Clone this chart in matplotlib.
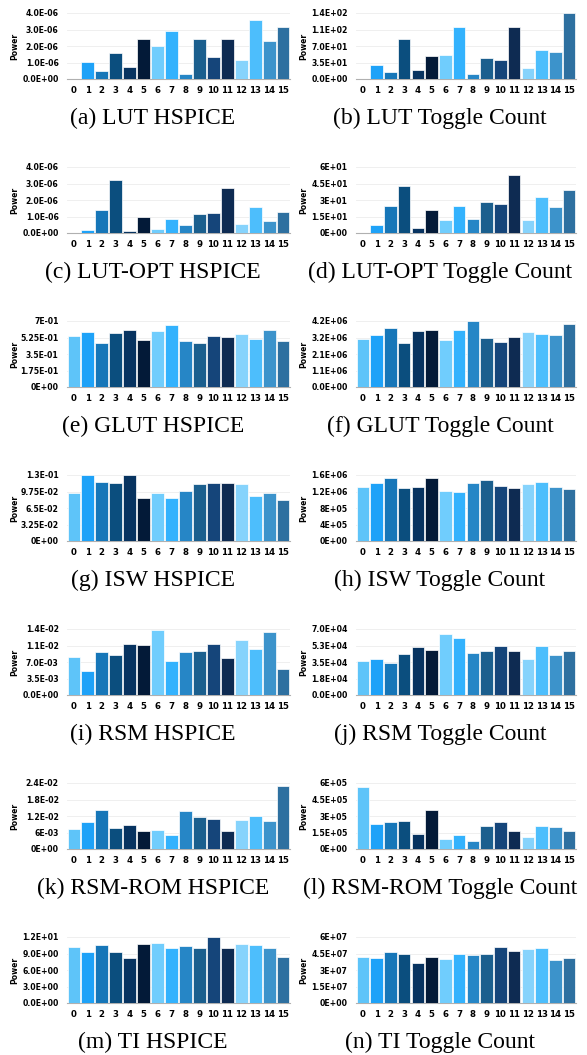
import matplotlib
matplotlib.use("Agg")
import matplotlib.pyplot as plt
import numpy as np

# Apple Numbers style blue palette, one colour per input value
colors = ['#5EC4F9', '#1EA2F8', '#1676B8', '#0B4E7E', '#073360', '#031A38',
          '#70CDFD', '#33B2FD', '#2686C6', '#1B5F8E', '#15457A', '#0E2B52',
          '#86D3FC', '#4DBEFC', '#3C93CB', '#2E70A0']
inputs = list(range(16))

# data
lut_hspice = [0, 1.04e-6, 0.5e-6, 1.56e-6, 0.75e-6, 2.4e-6, 1.98e-6, 2.9e-6,
              0.32e-6, 2.42e-6, 1.33e-6, 2.44e-6, 1.16e-6, 3.6e-6, 2.3e-6, 3.16e-6]
lut_toggle = [0, 30, 15, 84, 19, 49, 51, 111, 11, 44, 40, 111, 24, 61, 57, 139]
lutopt_hspice = [0, 0.16e-6, 1.37e-6, 3.2e-6, 0.1e-6, 0.98e-6, 0.26e-6, 0.86e-6,
                 0.48e-6, 1.13e-6, 1.19e-6, 2.73e-6, 0.56e-6, 1.55e-6, 0.7e-6, 1.29e-6]
lutopt_toggle = [0, 7, 25, 43, 5, 21, 12, 25, 13, 28, 26, 53, 12, 33, 24, 39]
glut_hspice = [0.544, 0.584, 0.463, 0.577, 0.605, 0.498, 0.594, 0.655,
               0.491, 0.47, 0.537, 0.527, 0.562, 0.512, 0.605, 0.484]
glut_toggle = [3.06e6, 3.29e6, 3.76e6, 2.83e6, 3.59e6, 3.61e6, 2.97e6, 3.61e6,
               4.18e6, 3.12e6, 2.89e6, 3.21e6, 3.48e6, 3.40e6, 3.31e6, 3.99e6]
isw_hspice = [0.095, 0.13, 0.117, 0.1145, 0.1306, 0.0848, 0.0936, 0.0842,
              0.0976, 0.113, 0.1145, 0.115, 0.113, 0.0896, 0.0936, 0.0808]
isw_toggle = [1.31e6, 1.41e6, 1.52e6, 1.28e6, 1.31e6, 1.53e6, 1.22e6, 1.20e6,
              1.40e6, 1.48e6, 1.34e6, 1.28e6, 1.37e6, 1.43e6, 1.30e6, 1.26e6]
rsm_hspice = [8.0e-3, 5.07e-3, 9.15e-3, 8.44e-3, 10.9e-3, 10.7e-3, 13.8e-3, 7.18e-3,
              9.08e-3, 9.36e-3, 10.84e-3, 7.81e-3, 11.6e-3, 9.71e-3, 13.37e-3, 5.56e-3]
rsm_toggle = [36.4e3, 38.2e3, 34.3e3, 43.4e3, 50.8e3, 47.6e3, 64.8e3, 60.9e3,
              44.1e3, 46.9e3, 52.2e3, 46.6e3, 38.5e3, 51.5e3, 42.4e3, 46.6e3]
rsmrom_hspice = [7.1e-3, 10.0e-3, 14.35e-3, 7.5e-3, 8.8e-3, 6.5e-3, 6.75e-3, 5.07e-3,
                 13.9e-3, 11.5e-3, 11.0e-3, 6.4e-3, 10.5e-3, 11.9e-3, 10.25e-3, 23.0e-3]
rsmrom_toggle = [5.6e5, 2.25e5, 2.44e5, 2.56e5, 1.34e5, 3.59e5, 0.91e5, 1.25e5,
                 0.73e5, 2.1e5, 2.47e5, 1.61e5, 1.13e5, 2.13e5, 2.01e5, 1.64e5]
ti_hspice = [10.2, 9.3, 10.5, 9.3, 8.1, 10.8, 11.0, 10.0,
             10.4, 10.0, 12.0, 10.0, 10.8, 10.6, 10.0, 8.4]
ti_toggle = [42e6, 41e6, 46e6, 45e6, 36e6, 42e6, 40e6, 45e6,
             44e6, 45e6, 51e6, 47e6, 49e6, 50e6, 39e6, 41e6]

# (values, y max, tick labels, caption)
panels = [
    (lut_hspice, 4e-6, ['0.0E+00', '1.0E-06', '2.0E-06', '3.0E-06', '4.0E-06'], '(a) LUT HSPICE'),
    (lut_toggle, 140, ['0.0E+00', '3.5E+01', '7.0E+01', '1.1E+02', '1.4E+02'], '(b) LUT Toggle Count'),
    (lutopt_hspice, 4e-6, ['0.0E+00', '1.0E-06', '2.0E-06', '3.0E-06', '4.0E-06'], '(c) LUT-OPT HSPICE'),
    (lutopt_toggle, 60, ['0E+00', '1.5E+01', '3E+01', '4.5E+01', '6E+01'], '(d) LUT-OPT Toggle Count'),
    (glut_hspice, 0.7, ['0E+00', '1.75E-01', '3.5E-01', '5.25E-01', '7E-01'], '(e) GLUT HSPICE'),
    (glut_toggle, 4.2e6, ['0.0E+00', '1.1E+06', '2.1E+06', '3.2E+06', '4.2E+06'], '(f) GLUT Toggle Count'),
    (isw_hspice, 0.13, ['0E+00', '3.25E-02', '6.5E-02', '9.75E-02', '1.3E-01'], '(g) ISW HSPICE'),
    (isw_toggle, 1.6e6, ['0E+00', '4E+05', '8E+05', '1.2E+06', '1.6E+06'], '(h) ISW Toggle Count'),
    (rsm_hspice, 0.014, ['0.0E+00', '3.5E-03', '7.0E-03', '1.1E-02', '1.4E-02'], '(i) RSM HSPICE'),
    (rsm_toggle, 70e3, ['0.0E+00', '1.8E+04', '3.5E+04', '5.3E+04', '7.0E+04'], '(j) RSM Toggle Count'),
    (rsmrom_hspice, 0.024, ['0E+00', '6E-03', '1.2E-02', '1.8E-02', '2.4E-02'], '(k) RSM-ROM HSPICE'),
    (rsmrom_toggle, 6e5, ['0E+00', '1.5E+05', '3E+05', '4.5E+05', '6E+05'], '(l) RSM-ROM Toggle Count'),
    (ti_hspice, 12, ['0.0E+00', '3.0E+00', '6.0E+00', '9.0E+00', '1.2E+01'], '(m) TI HSPICE'),
    (ti_toggle, 6e7, ['0E+00', '1.5E+07', '3E+07', '4.5E+07', '6E+07'], '(n) TI Toggle Count'),
]

W, H = 587, 1055
fig = plt.figure(figsize=(W / 100, H / 100), dpi=100)

col_x = [(67, 290), (356, 576)]
cap_x = [153, 440]

for k, (vals, top, labels, caption) in enumerate(panels):
    row, col = divmod(k, 2)
    zero_y = 79 + 154 * row
    top_y = zero_y - 66
    x0, x1 = col_x[col]
    ax = fig.add_axes([x0 / W, 1 - zero_y / H, (x1 - x0) / W, (zero_y - top_y) / H])
    ax.bar(inputs, vals, width=0.92, color=colors, edgecolor='white', linewidth=0.5, zorder=3)
    ax.set_xlim(-0.5, 15.5)
    ax.set_ylim(0, top)
    ax.set_yticks(np.linspace(0, top, 5))
    ax.set_yticklabels(labels)
    ax.set_xticks(inputs)
    ax.set_xticklabels([str(i) for i in inputs])
    ax.tick_params(length=0)
    ax.tick_params(axis='x', pad=5, labelsize=6.2)
    ax.tick_params(axis='y', pad=6, labelsize=5.6)
    for lab in ax.get_xticklabels() + ax.get_yticklabels():
        lab.set_fontweight('bold')
    ax.grid(axis='y', color='#ececec', linewidth=0.6, zorder=0)
    for s in ['top', 'right', 'left']:
        ax.spines[s].set_visible(False)
    ax.spines['bottom'].set_color('#b0b0b0')
    ax.spines['bottom'].set_linewidth(0.8)
    ax.set_ylabel('Power', fontsize=5.5, fontweight='bold')
    ax.yaxis.set_label_coords(-0.215, 0.5)
    fig.text(cap_x[col] / W, 1 - (zero_y + 39) / H, caption, ha='center', va='center',
             fontsize=17, family='Liberation Serif')

fig.savefig('out.png', dpi=100)
